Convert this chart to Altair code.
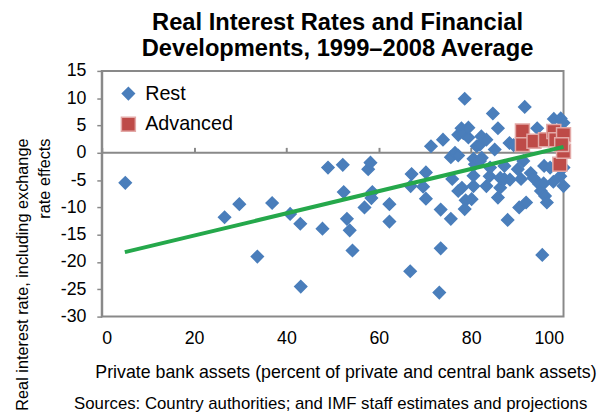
import altair as alt
import pandas as pd

# Rest of the sample (blue diamonds)
rest_x = [5.1, 26.6, 29.8, 33.7, 36.9, 40.8, 43.0, 43.1, 47.8, 49.0, 52.2, 52.4, 53.1, 53.7, 54.3,
          56.9, 57.7, 58.2, 58.4, 58.6, 62.3, 62.3, 66.8, 67.1, 66.9, 69.6, 70.2, 70.2, 71.3, 73.4,
          73.4, 73.1, 73.9, 75.6, 75.6, 75.9, 76.5, 77.2, 77.2, 77.9, 77.2, 78.0, 78.6, 78.3, 78.8,
          78.6, 79.4, 79.4, 80.1, 80.5, 80.5, 80.5, 80.8, 81.2, 81.9, 82.2, 82.3, 81.9, 83.3, 83.3,
          84.0, 84.1, 84.7, 85.1, 85.8, 85.8, 86.3, 86.3, 87.2, 87.2, 87.9, 88.3, 88.4, 89.2, 90.1,
          90.4, 90.8, 91.3, 91.6, 91.9, 92.9, 93.5, 94.3, 94.7, 95.1, 95.4, 95.7, 95.8, 96.0, 96.4,
          97.1, 97.8, 97.9, 99.3, 99.4, 100.0, 100.0, 100.0]
rest_y = [-5.5, -11.8, -9.4, -19.0, -9.2, -11.2, -13.0, -24.5, -13.9, -2.7, -2.2, -7.2, -12.1, -14.2, -17.9,
          -10.0, -3.0, -1.8, -8.3, -7.2, -9.4, -12.6, -21.7, -3.9, -6.1, -6.2, -3.6, -8.4, 1.2, -10.4,
          -17.5, -25.6, 2.4, -12.1, -0.8, -4.8, 0.0, -0.5, 3.3, 4.5, -7.0, -6.4, 9.9, 3.6, -8.7,
          -10.3, 2.8, 4.6, -8.5, -6.1, -4.2, -1.1, -2.1, 1.2, 1.5, 3.0, -0.9, -1.5, 2.4, -6.1,
          -4.3, -2.7, 7.2, 0.6, 4.5, -8.2, -6.4, -4.6, -2.4, -4.8, -12.3, 1.8, -4.9, 1.4, -3.0,
          -10.0, -4.8, -1.5, 8.4, -9.1, -3.7, -4.6, 4.5, -5.7, -7.0, -18.7, -5.6, -2.4, -7.9, -9.1,
          -2.7, -5.3, 6.2, -4.3, 6.3, -2.7, -6.1, 5.5]

# Advanced economies (red squares)
adv_x = [91.1, 91.1, 93.6, 96.1, 97.9, 98.3, 99.2, 100.0, 100.0, 99.6]
adv_y = [4.0, 1.5, 2.1, 2.4, 3.9, 2.4, -2.1, 3.3, 0.3, 1.5]

# Fitted trend line endpoints
trend_x = [5, 100]
trend_y = [-18.2, 1.1]

x_ticks = [0, 20, 40, 60, 80, 100]
y_ticks = [-30, -25, -20, -15, -10, -5, 0, 5, 10, 15]

series = ["Rest", "Advanced"]
source_note = ["Sources: Country authorities; and IMF staff estimates and projections"]

pts = pd.DataFrame({
    "x": rest_x + adv_x,
    "y": rest_y + adv_y,
    "series": ["Rest"] * len(rest_x) + ["Advanced"] * len(adv_x),
})
trend = pd.DataFrame({"x": trend_x, "y": trend_y})
note = pd.DataFrame({"t": source_note})

FONT = "Liberation Sans"
GRAY = "#898989"

xs = alt.Scale(domain=[0, 100], nice=False)
ys = alt.Scale(domain=[-30, 15], nice=False)

y_axis = alt.Axis(
    orient="left", values=y_ticks, tickCount=10, grid=False, domain=True, domainColor=GRAY, domainWidth=2,
    ticks=True, tickColor=GRAY, tickWidth=1.5, tickSize=5,
    labelPadding=11, labelFontSize=18, labelFont=FONT, labelColor="black", labelOverlap=False,
    labelExpr="datum.value + ''",
    title=["Real interest rate, including exchange", "rate effects"],
    titleFont=FONT, titleFontSize=16.5, titleFontWeight="normal", titleColor="black",
    titleAngle=270, titleAlign="right", titleBaseline="top", titleLineHeight=22,
    titleX=-88, titleY=68)

points = alt.Chart(pts).mark_point(filled=True, opacity=1, strokeWidth=1.5).encode(
    x=alt.X("x:Q", scale=xs, axis=alt.Axis(
        orient="bottom", values=x_ticks, ticks=False, tickSize=0, domain=False, grid=False,
        labelPadding=13, labelFontSize=18, labelFont=FONT, labelColor="black", labelOverlap=False,
        title="Private bank assets (percent of private and central bank assets)",
        titleFont=FONT, titleFontSize=18, titleFontWeight="normal", titleColor="black",
        titleX=247, titleY=48, titleBaseline="top", titleAlign="center")),
    y=alt.Y("y:Q", scale=ys, axis=y_axis),
    color=alt.Color("series:N", scale=alt.Scale(domain=series, range=["#4A7EBB", "#BE4B48"]),
                    legend=alt.Legend(title=None, orient="none", legendX=17, legendY=13,
                                      labelFont=FONT, labelFontSize=20, labelColor="black",
                                      labelOffset=7, rowPadding=10)),
    shape=alt.Shape("series:N", scale=alt.Scale(domain=series, range=["diamond", "square"])),
    stroke=alt.Stroke("series:N", scale=alt.Scale(domain=series, range=["#4A7EBB", "#E3A9A7"])),
    size=alt.Size("series:N", scale=alt.Scale(domain=series, range=[150, 200])),
)

line = alt.Chart(trend).mark_line(color="#25A84B", strokeWidth=4).encode(
    x=alt.X("x:Q", scale=xs, axis=alt.Axis(
        orient="top", values=x_ticks, labels=False, title=None, grid=False,
        domain=True, domainColor=GRAY, domainWidth=2,
        ticks=True, tickColor=GRAY, tickWidth=2, tickSize=5, offset=-82.5)),
    y=alt.Y("y:Q", scale=ys, axis=y_axis),
)

sources = alt.Chart(note).mark_text(
    font=FONT, fontSize=17, color="black", align="left", baseline="middle"
).encode(text="t:N", x=alt.value(-28), y=alt.value(338))

chart = alt.layer(points, line, sources).resolve_axis(x="independent").properties(
    width=468, height=249,
    autosize=alt.AutoSizeParams(type="none"),
    padding={"left": 95, "top": 61, "right": 39, "bottom": 99},
    title=alt.TitleParams(
        text=["Real Interest Rates and Financial", "Developments, 1999\u20132008 Average"],
        font=FONT, fontSize=24, fontWeight="bold", color="black",
        anchor="middle", frame="group", offset=1, lineHeight=26, dx=5),
    background="white",
).configure_view(stroke=GRAY, strokeWidth=2)

chart.save("out.html", embed_options={"renderer": "svg", "actions": False})
